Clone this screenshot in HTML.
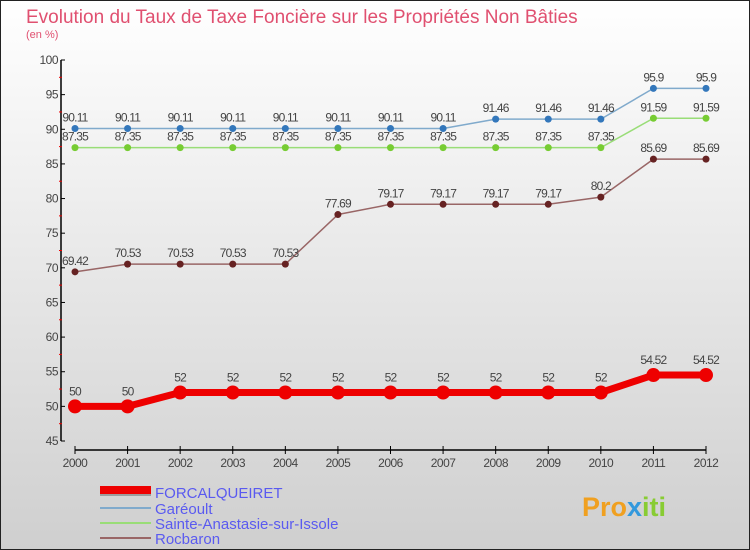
<!DOCTYPE html>
<html><head><meta charset="utf-8"><style>
html,body{margin:0;padding:0}
body{width:750px;height:550px;overflow:hidden;font-family:"Liberation Sans",sans-serif}
</style></head><body>
<svg width="750" height="550" xmlns="http://www.w3.org/2000/svg" style="display:block">
<defs>
<linearGradient id="bg" x1="0" y1="0" x2="0" y2="1"><stop offset="0" stop-color="#ffffff"/><stop offset="1" stop-color="#cfcfcf"/></linearGradient>
</defs>
<rect x="0.5" y="0.5" width="749" height="549" fill="url(#bg)" stroke="#222" stroke-width="1"/>
<text x="26" y="23" font-size="19" fill="#e05070">Evolution du Taux de Taxe Foncière sur les Propriétés Non Bâties</text>
<text x="26" y="38" font-size="11" fill="#e05070">(en %)</text>
<g id="axes"></g>
<g id="series"></g>
<g font-size="15" fill="#5a5af0">
<rect x="100" y="488" width="51" height="8" fill="#777" opacity="0.6"/>
<rect x="100" y="486" width="51" height="8" fill="#ee0000"/>
<text x="155" y="498" fill="#5a5af0">FORCALQUEIRET</text>
<line x1="100" y1="508" x2="151" y2="508" stroke="#80aacc" stroke-width="2"/>
<text x="155" y="514" fill="#5a5af0">Garéoult</text>
<line x1="100" y1="523" x2="151" y2="523" stroke="#99dd77" stroke-width="2"/>
<text x="155" y="529" fill="#5a5af0">Sainte-Anastasie-sur-Issole</text>
<line x1="100" y1="538" x2="151" y2="538" stroke="#996666" stroke-width="2"/>
<text x="155" y="544" fill="#5a5af0">Rocbaron</text>
</g>
<text x="582" y="516" font-size="27" font-weight="bold" fill="#f0a020">Pro<tspan fill="#3399dd">x</tspan><tspan fill="#88cc33">iti</tspan></text>
</svg>
<script>
const years=[2000,2001,2002,2003,2004,2005,2006,2007,2008,2009,2010,2011,2012];
const yTicks=[45,50,55,60,65,70,75,80,85,90,95,100];
const forcalqueiret=[50,50,52,52,52,52,52,52,52,52,52,54.52,54.52];
const gareoult=[90.11,90.11,90.11,90.11,90.11,90.11,90.11,90.11,91.46,91.46,91.46,95.9,95.9];
const sainteAnastasie=[87.35,87.35,87.35,87.35,87.35,87.35,87.35,87.35,87.35,87.35,87.35,91.59,91.59];
const rocbaron=[69.42,70.53,70.53,70.53,70.53,77.69,79.17,79.17,79.17,79.17,80.2,85.69,85.69];
const NS="http://www.w3.org/2000/svg";
const xs=i=>75+i*(706-75)/(years.length-1);
const ys=v=>60+(100-v)*(441-60)/55;
function mk(t,a,p){const e=document.createElementNS(NS,t);for(const k in a)e.setAttribute(k,a[k]);p.appendChild(e);return e;}
const ax=document.getElementById('axes');
mk('line',{x1:61,y1:60,x2:61,y2:441,stroke:'#000','stroke-width':1.5},ax);
mk('line',{x1:75,y1:450,x2:706,y2:450,stroke:'#000','stroke-width':1.5},ax);
yTicks.forEach(v=>{
 const y=ys(v);
 const t=mk('line',{x1:61,y1:y,x2:65,y2:y,stroke:'#000'},ax);
 
 
 if(v<100){const m=mk('line',{x1:59,y1:ys(v+2.5),x2:62,y2:ys(v+2.5),stroke:'#e00'},ax);}
 const l=mk('text',{x:58,y:y+4,'text-anchor':'end','font-size':12,fill:'#444','letter-spacing':'-0.5'},ax);
 l.textContent=v;
 
 
});
years.forEach((yr,i)=>{
 const x=xs(i);
 mk('line',{x1:x,y1:446,x2:x,y2:454,stroke:'#000'},ax);
 const l=mk('text',{x:x,y:467,'text-anchor':'middle','font-size':12,fill:'#444','letter-spacing':'-0.5'},ax);
 l.textContent=yr;
 
 
});
const sg=document.getElementById('series');
function series(name,vals,color,dot,w,r,fs,dy){
 const g=mk('g',{},sg);
 
 
 const pts=vals.map((v,i)=>xs(i)+','+ys(v)).join(' ');
 mk('polyline',{points:pts,fill:'none',stroke:color,'stroke-width':w,'stroke-linejoin':'round'},g);
 vals.forEach((v,i)=>{
  const c=mk('circle',{cx:xs(i),cy:ys(v),r:r,fill:dot},g);
  
  
  const t=mk('text',{x:xs(i),y:ys(v)+dy,'text-anchor':'middle','font-size':fs,fill:'#444','letter-spacing':'-0.8'},g);
  t.textContent=v;
  
  
 });
}
series('series-rocbaron',rocbaron,'#996666','#662222',1.5,3.5,12,-7);
series('series-sainte-anastasie',sainteAnastasie,'#99dd77','#77cc33',1.5,3.5,12,-7);
series('series-gareoult',gareoult,'#80aacc','#3377bb',1.5,3.5,12,-7);
series('series-forcalqueiret',forcalqueiret,'#ee0000','#ee0000',7,7,12,-11);
</script>
</body></html>
